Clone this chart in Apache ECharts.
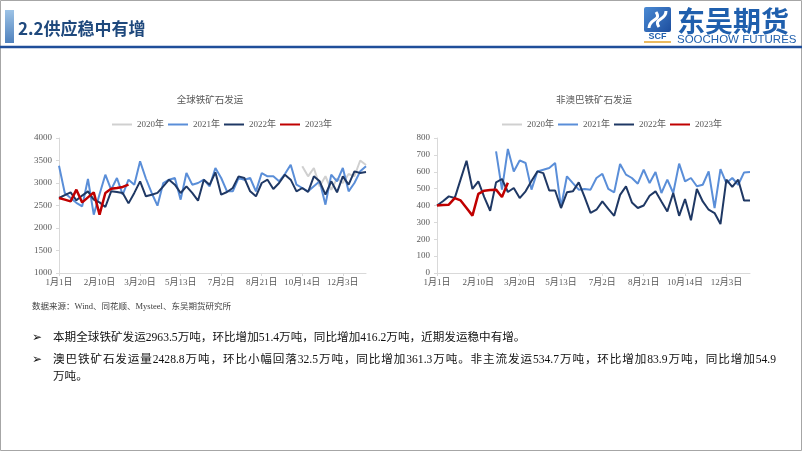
<!DOCTYPE html>
<html>
<head>
<meta charset="utf-8">
<style>html,body{margin:0;padding:0;background:#fff}#c{width:802px;height:451px}</style>
<script src="https://cdn.jsdelivr.net/npm/echarts@6/dist/echarts.min.js"></script>
</head>
<body>
<div id="c"></div>
<script>
// ---- data ----
const tickLabels = ['1月1日','2月10日','3月20日','5月13日','7月2日','8月21日','10月14日','12月3日'];
const categories = Array.from({length: 54}, (_, i) => '第' + (i + 1) + '周');
const seriesNames = ['2020年','2021年','2022年','2023年'];

// 全球铁矿石发运 (万吨)
const global2020 = [null,null,null,null,null,null,null,null,null,null,
  null,null,null,null,null,null,null,null,null,null,
  null,null,null,null,null,null,null,null,null,null,
  null,null,null,null,null,null,null,null,null,null,
  null,null,3370,3148,3333,2926,3150,2850,3100,3000,
  3200,3150,3500,3400];
const global2021 = [3385,2778,2667,2560,2481,3089,2296,2750,3185,2852,
  3111,2741,3074,2963,3481,3100,2778,2496,3000,3074,
  3111,2630,3222,2963,3000,3074,2926,3333,3111,2815,
  2815,3111,3074,3111,2815,3222,3148,3148,3037,3200,
  3407,2963,2889,2815,2926,3037,2519,3185,3037,3333,
  2815,3000,3259,3370];
const global2022 = [2667,2730,2793,2615,2720,2815,2630,2570,2467,2815,
  2800,2778,2547.3,2780,3037,2704,2740,2780,2926,3074,
  2963,2778,2926,2780,2607,3074,2960,3237,2741,2800,
  2889,3148,3111,2815,2704,3000,3074,2867,3000,3185,
  3074,2815,2889,2800,3148,3037,2741,3037,2793,3148,
  2963,3259,3222,3244];
const global2023 = [2667,2630,2591,2852,2569,2680,2791,2296,2778,2870,2890,2912.1,2963.5];

// 非澳巴铁矿石发运 (万吨)
const non2020 = [];
const non2021 = [null,null,null,null,null,null,null,null,null,null,
  721,494,735,602,667,652,494,602,612,622,
  652,391,573,533,494,498,494,563,588,498,
  478,646,583,563,529,612,533,598,474,553,
  474,648,543,563,514,523,602,385,616,533,
  563,523,596,598];
const non2022 = [400,425,454,444,555,665,498,543,450,369,
  537,557,479.8,504,444,484,545,602,592,489,
  489,385,478,484,537,450,356,375,424,380,
  339,463,513,418,385,400,458,484,424,365,
  474,339,438,312,498,424,375,355,290,553,
  510,553,429,429];
const non2023 = [400,403,405,444,430,385,340,469,488,492,494,450.8,534.7];

const bodyLine1 = '本期全球铁矿发运2963.5万吨，环比增加51.4万吨，同比增加416.2万吨，近期发运稳中有增。';
const bodyLine2 = '澳巴铁矿石发运量2428.8万吨，环比小幅回落32.5万吨，同比增加361.3万吨。非主流发运534.7万吨，环比增加83.9万吨，同比增加54.9';
const bodyLine3 = '万吨。';
const sourceText = '数据来源：Wind、同花顺、Mysteel、东吴期货研究所';

// ---- styles ----
const COLORS = ['#D0D0D0', '#5A8ED8', '#1F3864', '#C00000'];
const WIDTHS = [2, 2, 2, 2.5];
const SERIF = "'Liberation Serif', 'Noto Sans CJK SC', serif";
const BODY_FONT = "'Liberation Serif', 'Noto Sans CJK SC', sans-serif";
const BODY_SIZE = 11.6;

const chart = echarts.init(document.getElementById('c'), null, {renderer: 'canvas'});

function xAxisCfg(gi) {
  return {
    gridIndex: gi, type: 'category', data: categories, boundaryGap: false,
    axisLine: {show: true, lineStyle: {color: '#D9D9D9', width: 1}},
    axisTick: {show: true, interval: 6, length: 3, lineStyle: {color: '#D9D9D9'}},
    axisLabel: {interval: 6, formatter: (v, i) => tickLabels[i / 7] || '', color: '#595959',
      fontSize: 9, fontFamily: SERIF, margin: 5, hideOverlap: false},
    splitLine: {show: false}
  };
}
function yAxisCfg(gi, min, max, interval) {
  return {
    gridIndex: gi, type: 'value', min: min, max: max, interval: interval,
    axisLine: {show: true, lineStyle: {color: '#D9D9D9', width: 1}},
    axisTick: {show: true, length: 3, lineStyle: {color: '#D9D9D9'}},
    splitLine: {show: false},
    axisLabel: {color: '#595959', fontSize: 9, fontFamily: SERIF, margin: 7, formatter: v => String(v)}
  };
}
function lineSeries(k, gi, data) {
  return {
    name: seriesNames[k], type: 'line', xAxisIndex: gi, yAxisIndex: gi, data: data,
    symbol: 'none', showSymbol: false, connectNulls: false, z: 2 + k,
    lineStyle: {color: COLORS[k], width: WIDTHS[k]}, itemStyle: {color: COLORS[k]},
    emphasis: {disabled: true}, animation: false
  };
}
function legendCfg(left) {
  return {
    data: seriesNames, left: left, top: 115, icon: 'rect', itemWidth: 20, itemHeight: 2,
    itemGap: 4, selectedMode: false,
    textStyle: {color: '#595959', fontSize: 9, fontFamily: SERIF}
  };
}

// justified second body line (space spread between characters, like the slide)
const mctx = document.createElement('canvas').getContext('2d');
mctx.font = BODY_SIZE + 'px ' + BODY_FONT;
const line2Start = 53, line2End = 776;
const tokens = bodyLine2.match(/[0-9.]+|./g);
const tokW = tokens.map(t => mctx.measureText(t).width);
const natural = tokW.reduce((a, b) => a + b, 0);
const gap = (line2End - line2Start - natural) / (tokens.length - 1);
let cx = line2Start;
const line2Elems = tokens.map((t, i) => {
  const el = {type: 'text', x: cx, y: 360, style: {text: t, fill: '#111', fontSize: BODY_SIZE,
    fontFamily: BODY_FONT, verticalAlign: 'middle'}};
  cx += tokW[i] + gap;
  return el;
});

const graphics = [
  {type: 'rect', shape: {x: 0.5, y: 0.5, width: 801, height: 450}, style: {fill: 'none', stroke: '#A6A6A6', lineWidth: 1}},
  {type: 'rect', shape: {x: 5, y: 10, width: 9, height: 33}, style: {fill: new echarts.graphic.LinearGradient(0, 0, 0, 1, [{offset: 0, color: '#9DC3E6'}, {offset: 1, color: '#4F81BD'}])}},
  {type: 'text', x: 18, y: 29, style: {text: '2.2供应稳中有增', fill: '#1F497D', fontSize: 17, fontWeight: 'bold', fontFamily: "'Noto Sans CJK SC', sans-serif", verticalAlign: 'middle'}},
  {type: 'line', shape: {x1: 0, y1: 47, x2: 802, y2: 47}, style: {stroke: '#1F4E9A', lineWidth: 2.5}},
  // logo
  {type: 'rect', shape: {x: 644, y: 7, width: 27, height: 25, r: 2}, style: {fill: new echarts.graphic.LinearGradient(0, 0, 1, 1, [{offset: 0, color: '#4A8AD4'}, {offset: 1, color: '#1D4E9E'}])}},
  {type: 'bezierCurve', shape: {x1: 649, y1: 28, cpx1: 649, cpy1: 18, cpx2: 662, cpy2: 21, x2: 656, y2: 12}, style: {fill: 'none', stroke: '#fff', lineWidth: 3}},
  {type: 'bezierCurve', shape: {x1: 666, y1: 11, cpx1: 666, cpy1: 21, cpx2: 653, cpy2: 18, x2: 659, y2: 27}, style: {fill: 'none', stroke: '#fff', lineWidth: 3}},
  {type: 'text', x: 657.5, y: 37, style: {text: 'SCF', fill: '#1F5FAD', fontSize: 9, fontWeight: 'bold', fontFamily: "'Liberation Sans', sans-serif", align: 'center', verticalAlign: 'middle'}},
  {type: 'line', shape: {x1: 644, y1: 42, x2: 671, y2: 42}, style: {stroke: '#E3A32B', lineWidth: 1.5}},
  {type: 'text', x: 677, y: 21, style: {text: '东吴期货', fill: '#1F5FAD', fontSize: 28, fontWeight: 'bold', fontFamily: "'Noto Sans CJK SC', sans-serif", verticalAlign: 'middle'}},
  {type: 'text', x: 677, y: 40, style: {text: 'SOOCHOW FUTURES', fill: '#1F5FAD', fontSize: 11.5, fontFamily: "'Liberation Sans', sans-serif", verticalAlign: 'middle'}},
  // chart titles
  {type: 'text', x: 210, y: 99, style: {text: '全球铁矿石发运', fill: '#595959', fontSize: 9.5, fontFamily: "'Noto Sans CJK SC', serif", align: 'center', verticalAlign: 'middle'}},
  {type: 'text', x: 594, y: 99, style: {text: '非澳巴铁矿石发运', fill: '#595959', fontSize: 9.5, fontFamily: "'Noto Sans CJK SC', serif", align: 'center', verticalAlign: 'middle'}},
  // source + body
  {type: 'text', x: 32, y: 307, style: {text: sourceText, fill: '#404040', fontSize: 8.5, fontFamily: SERIF, verticalAlign: 'middle'}},
  {type: 'text', x: 32, y: 338, style: {text: '➢', fill: '#111', fontSize: 12, fontFamily: "'DejaVu Sans', sans-serif", verticalAlign: 'middle'}},
  {type: 'text', x: 53, y: 338, style: {text: bodyLine1, fill: '#111', fontSize: BODY_SIZE, fontFamily: BODY_FONT, verticalAlign: 'middle'}},
  {type: 'text', x: 32, y: 360, style: {text: '➢', fill: '#111', fontSize: 12, fontFamily: "'DejaVu Sans', sans-serif", verticalAlign: 'middle'}},
  ...line2Elems,
  {type: 'text', x: 53, y: 377, style: {text: bodyLine3, fill: '#111', fontSize: BODY_SIZE, fontFamily: BODY_FONT, verticalAlign: 'middle'}}
];

chart.setOption({
  animation: false,
  backgroundColor: '#fff',
  grid: [
    {left: 59, top: 138, width: 307, height: 135, containLabel: false, outerBoundsMode: 'none'},
    {left: 437, top: 138, width: 313, height: 135, containLabel: false, outerBoundsMode: 'none'}
  ],
  legend: [legendCfg(107), legendCfg(497)],
  xAxis: [xAxisCfg(0), xAxisCfg(1)],
  yAxis: [yAxisCfg(0, 1000, 4000, 500), yAxisCfg(1, 0, 800, 100)],
  series: [
    lineSeries(0, 0, global2020), lineSeries(1, 0, global2021), lineSeries(2, 0, global2022), lineSeries(3, 0, global2023),
    lineSeries(0, 1, non2020), lineSeries(1, 1, non2021), lineSeries(2, 1, non2022), lineSeries(3, 1, non2023)
  ],
  graphic: graphics
});
</script>
</body>
</html>
